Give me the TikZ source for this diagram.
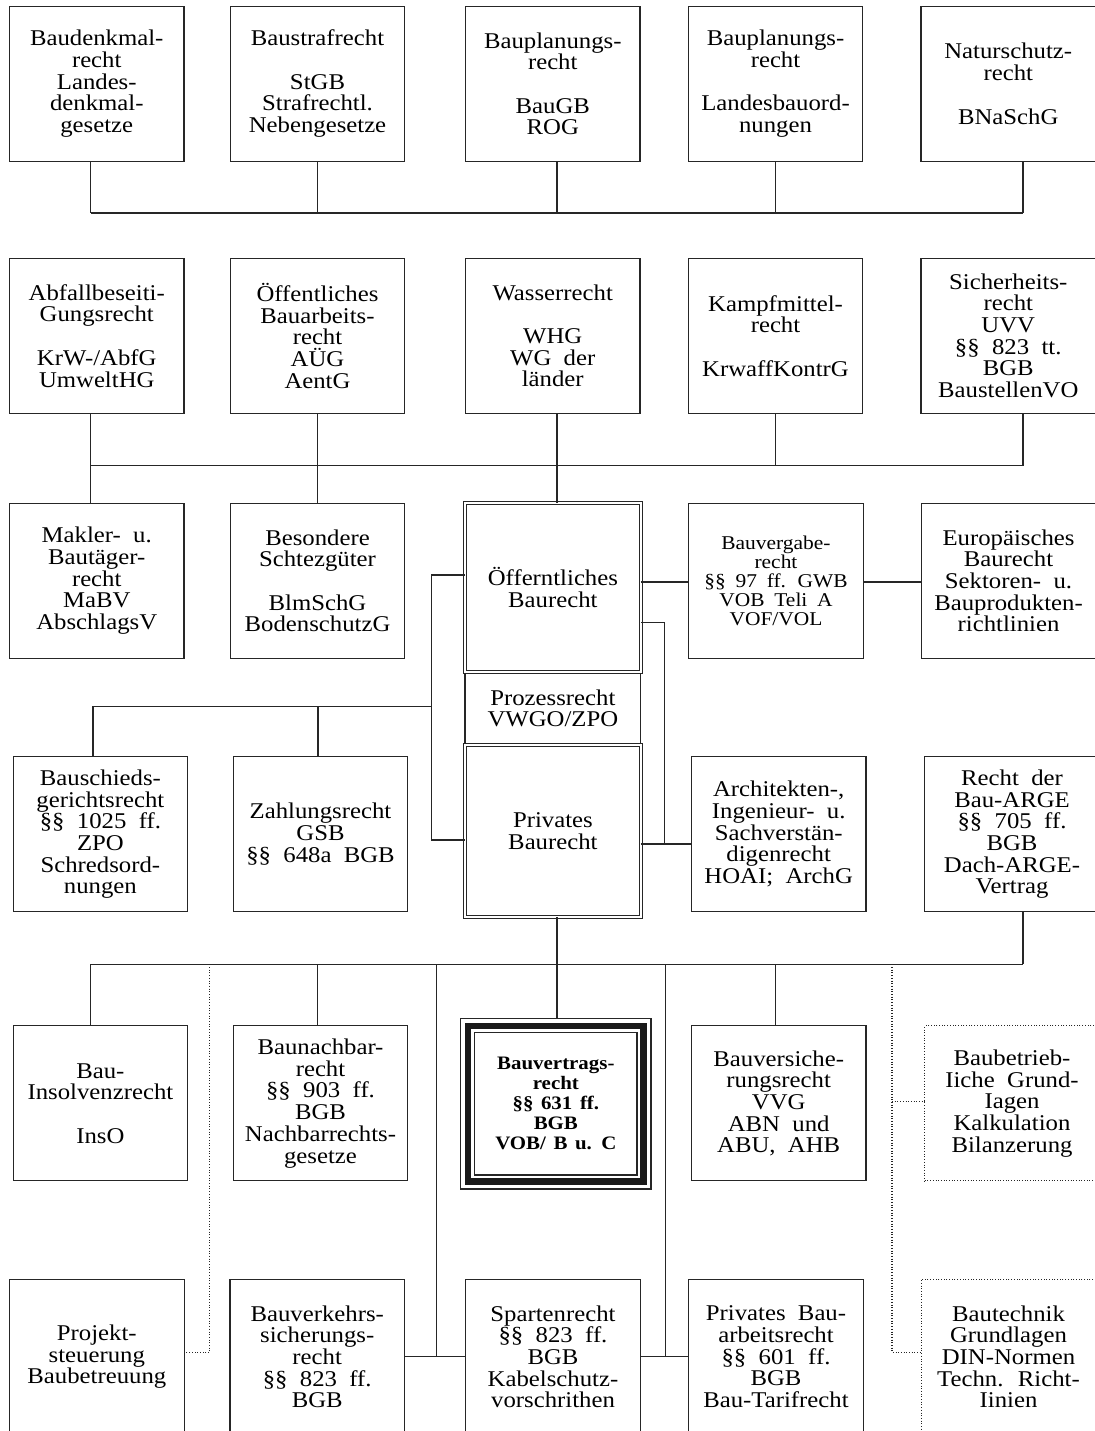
\documentclass[tikz,border=0pt]{standalone}
\usepackage{fontspec}
\setmainfont{Liberation Serif}[FakeStretch=1.1]
\usetikzlibrary{calc}
\newcommand\fnorm{\fontsize{22.5}{21.7}\selectfont\spaceskip=0.55em plus 0.1em\relax}
\newcommand\fsmall{\fontsize{19.5}{19}\selectfont\spaceskip=0.5em plus 0.1em\relax}
\newcommand\fbold{\fontsize{19}{20}\selectfont\bfseries\spaceskip=0.4em plus 0.1em\relax}
\tikzset{
  box/.style={draw=black!85, line width=1.1pt, inner sep=0pt, outer sep=0pt, align=center,
    minimum width=174.5pt, minimum height=155pt, font=\fnorm, text=black},
  dbox/.style={box, double=white, double distance=2pt, line width=0.9pt, minimum width=175.8pt},
  dotbox/.style={box, dash pattern=on 1pt off 1.7pt},
  conn/.style={draw=black!85, line width=1.1pt},
  dotconn/.style={draw=black!85, line width=1.1pt, dash pattern=on 1pt off 1.7pt},
}
\begin{document}
\begin{tikzpicture}[x=1pt,y=-1pt]
\fill[white] (0,0) rectangle (1094,1431);
\useasboundingbox (0,0) rectangle (1094,1431);

% Row 1
\node[box] (b11) at (96.75,83.8) {Baudenkmal-\\recht\\Landes-\\denkmal-\\gesetze};
\node[box] (b12) at (317.5,83.8) {Baustrafrecht\\[21.7pt]StGB\\Strafrechtl.\\Nebengesetze};
\node[box] (b13) at (552.75,83.8) {Bauplanungs-\\recht\\[21.7pt]BauGB\\ROG};
\node[box] (b14) at (775.5,83.8) {Bauplanungs-\\recht\\[21.7pt]Landesbauord-\\nungen};
\node[box] (b15) at (1008.25,83.8) {Naturschutz-\\recht\\[21.7pt]BNaSchG};

% Row 2
\node[box] (b21) at (96.75,335.8) {Abfallbeseiti-\\Gungsrecht\\[21.7pt]KrW-/AbfG\\UmweltHG};
\node[box] (b22) at (317.5,335.8) {Öffentliches\\Bauarbeits-\\recht\\AÜG\\AentG};
\node[box] (b23) at (552.75,335.8) {Wasserrecht\\[21.7pt]WHG\\WG der\\länder};
\node[box] (b24) at (775.5,335.8) {Kampfmittel-\\recht\\[21.7pt]KrwaffKontrG};
\node[box] (b25) at (1008.25,335.8) {Sicherheits-\\recht\\UVV\\§§ 823 tt.\\BGB\\BaustellenVO};

% Row 3
\node[box] (mak) at (96.75,580.8) {Makler- u.\\Bautäger-\\recht\\MaBV\\AbschlagsV};
\node[box] (bes) at (317.5,580.8) {Besondere\\Schtezgüter\\[21.7pt]BlmSchG\\BodenschutzG};
\node[box, font=\fsmall] (verg) at (776,580.8) {Bauvergabe-\\recht\\§§ 97 ff. GWB\\VOB Teli A\\VOF/VOL};
\node[box] (eur) at (1008.5,580.8) {Europäisches\\Baurecht\\Sektoren- u.\\Bauprodukten-\\richtlinien};

% Centre column
\node[box, minimum width=175.8pt, minimum height=73pt] (proz) at (552.9,708.5) {Prozessrecht\\VWGO/ZPO};
\node[dbox, minimum height=168.7pt] (oeff) at (552.9,587.65) {Öfferntliches\\Baurecht};
\node[dbox, minimum height=172pt] (priv) at (552.9,831) {Privates\\Baurecht};

% Row 4
\node[box] (bsch) at (100.4,834.2) {Bauschieds-\\gerichtsrecht\\§§ 1025 ff.\\ZPO\\Schredsord-\\nungen};
\node[box] (zahl) at (320.5,834.2) {Zahlungsrecht\\GSB\\§§ 648a BGB};
\node[box] (arch) at (778.7,834.2) {Architekten-,\\Ingenieur- u.\\Sachverstän-\\digenrecht\\HOAI; ArchG};
\node[box] (arge) at (1012,834.2) {Recht der\\Bau-ARGE\\§§ 705 ff.\\BGB\\Dach-ARGE-\\Vertrag};

% Row 5
\node[box] (ins) at (100.4,1103.4) {Bau-\\Insolvenzrecht\\[21.7pt]InsO};
\node[box] (nach) at (320.5,1103.4) {Baunachbar-\\recht\\§§ 903 ff.\\BGB\\Nachbarrechts-\\gesetze};
\node[box, minimum width=190.3pt, minimum height=170.3pt, line width=1.3pt, font=\fbold] (bv) at (555.85,1103.85) {Bauvertrags-\\recht\\§§ 631 ff.\\BGB\\VOB/ B u. C};
\draw[line width=6.5pt, draw=black!90] ($(bv.north west)+(7.3,7.3)$) rectangle ($(bv.south east)+(-7.3,-7.3)$);
\draw[line width=1.3pt, draw=black!85] ($(bv.north west)+(14,14)$) rectangle ($(bv.south east)+(-14,-14)$);
\node[box] (vers) at (778.7,1103.4) {Bauversiche-\\rungsrecht\\VVG\\ABN und\\ABU, AHB};
\node[dotbox] (bbetr) at (1012,1103.4) {Baubetrieb-\\Iiche Grund-\\Iagen\\Kalkulation\\Bilanzerung};

% Row 6
\node[box] (proj) at (96.85,1356.8) {Projekt-\\steuerung\\Baubetreuung};
\node[box] (verk) at (317.2,1356.8) {Bauverkehrs-\\sicherungs-\\recht\\§§ 823 ff.\\BGB};
\node[box] (spart) at (553,1356.8) {Spartenrecht\\§§ 823 ff.\\BGB\\Kabelschutz-\\vorschrithen};
\node[box] (pba) at (776,1356.8) {Privates Bau-\\arbeitsrecht\\§§ 601 ff.\\BGB\\Bau-Tarifrecht};
\node[dotbox] (btech) at (1008.5,1356.8) {Bautechnik\\Grundlagen\\DIN-Normen\\Techn. Richt-\\Iinien};

% Bus 1
\coordinate (Pa) at (90.5,213);
\coordinate (Pb) at (317.5,213);
\coordinate (Pc) at (557,213);
\coordinate (Pd) at (775.6,213);
\coordinate (Pe) at (1023,213);
\draw[conn] (Pa) -- (Pe);
\draw[conn] (Pa |- b11.south) -- (Pa);
\draw[conn] (Pb |- b12.south) -- (Pb);
\draw[conn] (Pc |- b13.south) -- (Pc);
\draw[conn] (Pd |- b14.south) -- (Pd);
\draw[conn] (Pe |- b15.south) -- (Pe);

% Bus 2
\coordinate (Qa) at (90.5,465.7);
\coordinate (Qb) at (317.5,465.7);
\coordinate (Qc) at (557,465.7);
\coordinate (Qd) at (775.6,465.7);
\coordinate (Qe) at (1023,465.7);
\draw[conn] (Qa) -- (Qe);
\draw[conn] (Qa |- b21.south) -- (Qa |- mak.north);
\draw[conn] (Qb |- b22.south) -- (Qb |- bes.north);
\draw[conn] (Qc |- b23.south) -- (Qc |- oeff.north);
\draw[conn] (Qd |- b24.south) -- (Qd);
\draw[conn] (Qe |- b25.south) -- (Qe);

% Left side of centre column
\coordinate (L1) at (431.7,575);
\coordinate (L2) at (431.7,840);
\coordinate (L3) at (431.7,706.7);
\coordinate (L4) at (93,706.7);
\coordinate (L5) at (318,706.7);
\draw[conn] (L1 -| oeff.west) -- (L1) -- (L2) -- (L2 -| priv.west);
\draw[conn] (L3) -- (L4) -- (L4 |- bsch.north);
\draw[conn] (L5) -- (L5 |- zahl.north);

% Right side of centre column
\coordinate (R1) at (660,582);
\coordinate (R2) at (664.4,622.7);
\coordinate (R3) at (664.4,844);
\draw[conn] (R1 -| oeff.east) -- (R1 -| verg.west);
\draw[conn] (R1 -| verg.east) -- (R1 -| eur.west);
\draw[conn] (R2 -| oeff.east) -- (R2) -- (R3);
\draw[conn] (R3 -| priv.east) -- (R3 -| arch.west);

% Bus 3
\coordinate (Ta) at (90.5,964.3);
\coordinate (Tb) at (317.5,964.3);
\coordinate (Tc) at (557,964.3);
\coordinate (Td) at (775.6,964.3);
\coordinate (Te) at (1023,964.3);
\coordinate (Tf) at (436.8,964.3);
\coordinate (Tg) at (665.8,964.3);
\coordinate (Th) at (209.8,964.3);
\coordinate (Ti) at (892,964.3);
\draw[conn] (Ta) -- (Te);
\draw[conn] (Tc |- priv.south) -- (Tc |- bv.north);
\draw[conn] (Te |- arge.south) -- (Te);
\draw[conn] (Ta) -- (Ta |- ins.north);
\draw[conn] (Tb) -- (Tb |- nach.north);
\draw[conn] (Td) -- (Td |- vers.north);
\coordinate (S1) at (436.8,1356.7);
\coordinate (S2) at (665.8,1356.7);
\draw[conn] (Tf) -- (S1);
\draw[conn] (S1 -| verk.east) -- (S1 -| spart.west);
\draw[conn] (Tg) -- (S2);
\draw[conn] (S2 -| spart.east) -- (S2 -| pba.west);
\coordinate (D1) at (209.8,1352.3);
\coordinate (D2) at (892,1352.3);
\coordinate (D3) at (892,1101.7);
\draw[dotconn] (Th) -- (D1) -- (D1 -| proj.east);
\draw[dotconn] (Ti) -- (D2) -- (D2 -| btech.west);
\draw[dotconn] (D3) -- (D3 -| bbetr.west);
\end{tikzpicture}
\end{document}
